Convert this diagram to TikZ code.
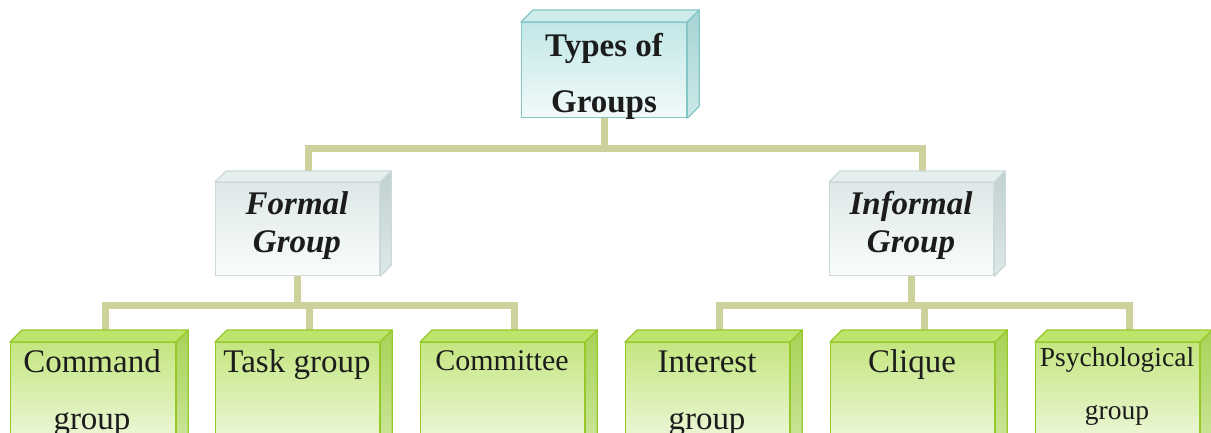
\documentclass[tikz,border=0pt]{standalone}
\usepackage{fontspec}
\setmainfont{Liberation Serif}
\usetikzlibrary{backgrounds,calc}

% colour schemes of the three tiers
\definecolor{conncol}{RGB}{205,209,155}
\definecolor{inkcol}{RGB}{28,28,28}
\definecolor{cyanF1}{RGB}{194,231,231}\definecolor{cyanF2}{RGB}{242,250,250}
\definecolor{cyanT}{RGB}{206,236,236}\definecolor{cyanS1}{RGB}{165,212,212}
\definecolor{cyanS2}{RGB}{205,233,233}\definecolor{cyanB}{RGB}{132,198,198}
\definecolor{greyF1}{RGB}{222,232,232}\definecolor{greyF2}{RGB}{250,252,252}
\definecolor{greyT}{RGB}{230,238,238}\definecolor{greyS1}{RGB}{192,208,208}
\definecolor{greyS2}{RGB}{222,232,232}\definecolor{greyB}{RGB}{204,217,217}
\definecolor{grnF1}{RGB}{196,230,128}\definecolor{grnF2}{RGB}{242,249,228}
\definecolor{grnT}{RGB}{190,228,108}\definecolor{grnS1}{RGB}{168,210,86}
\definecolor{grnS2}{RGB}{205,232,160}\definecolor{grnB}{RGB}{150,200,42}

\tikzset{
  conn/.style={draw=conncol, line width=7pt, line join=miter},
  face/.style={line width=1.2pt, line join=round},
  cyanfront/.style={top color=cyanF1, bottom color=cyanF2, draw=cyanB},
  cyantop/.style={fill=cyanT, draw=cyanB},
  cyanside/.style={top color=cyanS1, bottom color=cyanS2, draw=cyanB},
  greyfront/.style={top color=greyF1, bottom color=greyF2, draw=greyB},
  greytop/.style={fill=greyT, draw=greyB},
  greyside/.style={top color=greyS1, bottom color=greyS2, draw=greyB},
  grnfront/.style={top color=grnF1, bottom color=grnF2, draw=grnB},
  grntop/.style={fill=grnT, draw=grnB},
  grnside/.style={top color=grnS1, bottom color=grnS2, draw=grnB},
  lbl/.style={anchor=base, inner sep=0pt, text=inkcol},
  big/.style={font=\fontsize{33}{33}\selectfont},
}

% a box with a visible top and right face: name, left x, top y, width, height, depth, scheme
\newcommand\solidbox[7]{%
  \node[face, #7front, rectangle, inner sep=0pt, anchor=north west,
        minimum width=#4, minimum height=#5] (#1) at (#2,#3) {};
  \path[face, #7top] (#1.north west) -- ++(#6,-#6) -- ($(#1.north east)+(#6,-#6)$)
        -- (#1.north east) -- cycle;
  \path[face, #7side] (#1.north east) -- ++(#6,-#6) -- ($(#1.south east)+(#6,-#6)$)
        -- (#1.south east) -- cycle;
}

\begin{document}
\begin{tikzpicture}[x=1pt, y=-1pt]
\useasboundingbox (0,0) rectangle (1211,432);

% boxes
\solidbox{root}{521}{22}{165}{95}{12}{cyan}
\solidbox{formal}{215}{182}{164}{93}{11}{grey}
\solidbox{informal}{829}{182}{164}{93}{11}{grey}
\solidbox{cmd}{10}{342}{165}{110}{12}{grn}
\solidbox{task}{215}{342}{164}{110}{12}{grn}
\solidbox{comm}{420}{342}{164}{110}{12}{grn}
\solidbox{inter}{625}{342}{164}{110}{12}{grn}
\solidbox{cliq}{830}{342}{164}{110}{12}{grn}
\solidbox{psy}{1035}{342}{164}{110}{12}{grn}

% labels
\node[lbl, big, font=\fontsize{33}{33}\selectfont\bfseries] (t1) at (604,56) {Types of};
\node[lbl, big, font=\fontsize{33}{33}\selectfont\bfseries] (t2) at (604,112) {Groups};
\node[lbl, font=\fontsize{33}{33}\selectfont\bfseries\itshape] (f1) at (297,214) {Formal};
\node[lbl, font=\fontsize{33}{33}\selectfont\bfseries\itshape] (f2) at (297,252) {Group};
\node[lbl, font=\fontsize{33}{33}\selectfont\bfseries\itshape] (i1) at (911,214) {Informal};
\node[lbl, font=\fontsize{33}{33}\selectfont\bfseries\itshape] (i2) at (911,252) {Group};
\node[lbl, big] (c1) at (92,372) {Command};
\node[lbl, big] (c2) at (92,429) {group};
\node[lbl, big] (k1) at (297,372) {Task group};
\node[lbl, font=\fontsize{30}{30}\selectfont] (m1) at (502,370) {Committee};
\node[lbl, big] (n1) at (707,372) {Interest};
\node[lbl, big] (n2) at (707,429) {group};
\node[lbl, big] (q1) at (912,372) {Clique};
\node[lbl, font=\fontsize{27.5}{27.5}\selectfont] (p1) at (1117,366) {Psychological};
\node[lbl, font=\fontsize{27.5}{27.5}\selectfont] (p2) at (1117,419) {group};

% connectors, behind the boxes
\begin{pgfonlayer}{background}
  \fill[white] (0,0) rectangle (1211,432);
  \coordinate (hubA) at ($(root.south)+(0,30)$);
  \draw[conn] (root.south) -- (hubA) -| ([xshift=11pt]formal.north);
  \draw[conn] (hubA) -| ([xshift=11pt]informal.north);
  \coordinate (hubB) at ($(formal.south)+(0,29)$);
  \draw[conn] (formal.south) -- (hubB) -| ([xshift=12pt]cmd.north);
  \draw[conn] (hubB) -| ([xshift=12pt]comm.north);
  \draw[conn] (hubB) -| ([xshift=12pt]task.north);
  \coordinate (hubC) at ($(informal.south)+(0,29)$);
  \draw[conn] (informal.south) -- (hubC) -| ([xshift=12pt]inter.north);
  \draw[conn] (hubC) -| ([xshift=12pt]psy.north);
  \draw[conn] (hubC) -| ([xshift=12pt]cliq.north);
\end{pgfonlayer}
\end{tikzpicture}
\end{document}
